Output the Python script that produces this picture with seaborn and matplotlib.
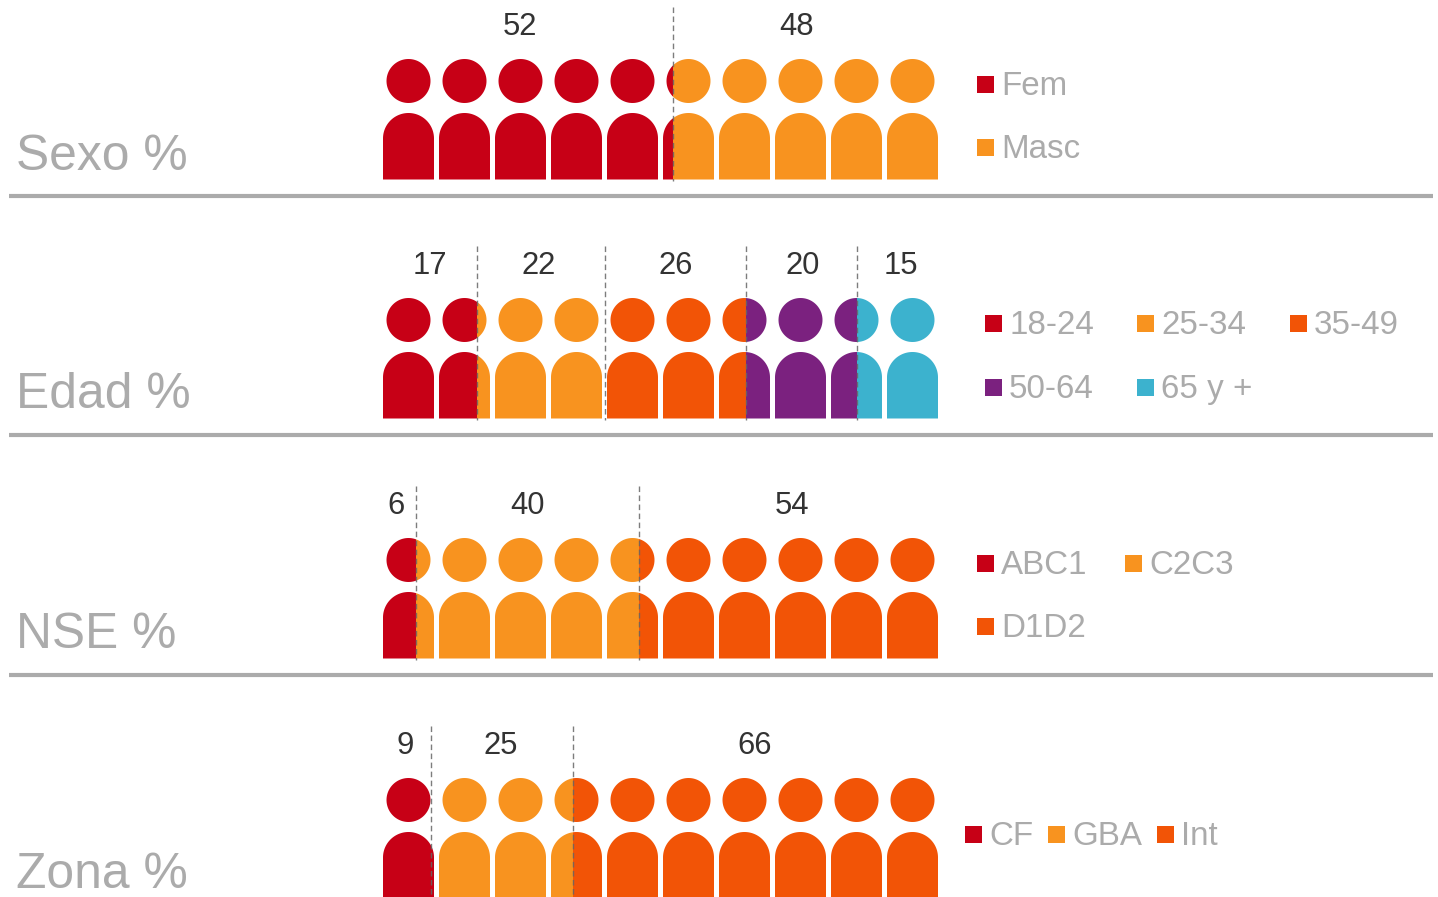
import numpy as np
import matplotlib
matplotlib.use("Agg")
import matplotlib.pyplot as plt
from matplotlib.path import Path
from matplotlib.patches import Rectangle
import seaborn as sns

# --- data ---
titles = ["Sexo %", "Edad %", "NSE %", "Zona %"]
sexo_labels = ["Fem", "Masc"]
edad_labels = ["18-24", "25-34", "35-49", "50-64", "65 y +"]
nse_labels = ["ABC1", "C2C3", "D1D2"]
zona_labels = ["CF", "GBA", "Int"]
sexo_shown = [52, 48]
edad_shown = [17, 22, 26, 20, 15]
nse_shown = [6, 40, 54]
zona_shown = [9, 25, 66]
# unrounded shares
sexo_share = [52.2, 47.8]
edad_share = [17.0, 23.0, 25.4, 20.0, 14.6]
nse_share = [6.0, 40.2, 53.8]
zona_share = [9.2, 25.0, 65.8]
palette = ["#C70016", "#F8931F", "#F25406", "#7B217F", "#3CB2CE"]

# --- layout (pixels) ---
W, H = 1438, 897
X0, X1 = 383, 938
PPU = (X1 - X0) / 100
PITCH, BODY_W, HEAD_R = 56, 51, 22
row_top = [0, 239, 479, 719]
label_shift = [[-8, -9], [0, -3, 0, 1, 3], [-4, 0, 3], [-3, -3, -1]]
dash_shift = [[0], [0, 0, 0, 0], [0, 0], [-2.8, 0]]
legend_pos = [
    [(977, 84), (977, 147)],
    [(985, 323), (1137, 323), (1290, 323), (985, 387), (1137, 387)],
    [(977, 563), (1125, 563), (977, 626)],
    [(965, 834), (1048, 834), (1157, 834)],
]

plt.rcParams["font.family"] = ["Liberation Sans", "DejaVu Sans"]
sns.set_style("white")
plt.rcParams["font.family"] = ["Liberation Sans", "DejaVu Sans"]
GRAY, DARK = "#ABABAB", "#333333"

fig = plt.figure(figsize=(W / 100, H / 100), dpi=100, facecolor="white")
bg = fig.add_axes([0, 0, 1, 1])
bg.set_xlim(0, W)
bg.set_ylim(H, 0)
bg.axis("off")


def people_path():
    """Ten head-and-body icons in row data units (x: percent, y: pixels)."""
    parts = []
    theta = np.linspace(0, 2 * np.pi, 90)
    arc = np.linspace(np.pi, 0, 60)
    r = BODY_W / 2
    for i in range(10):
        cx = 25.5 + PITCH * i
        hx = (cx + HEAD_R * np.cos(theta)) / PPU
        hy = 81 + HEAD_R * np.sin(theta)
        parts.append(Path(np.column_stack([hx, hy]), closed=True))
        bx = np.r_[cx - r, cx + r * np.cos(arc), cx + r, cx - r] / PPU
        by = np.r_[179.5, 138.5 - r * np.sin(arc), 179.5, 179.5]
        parts.append(Path(np.column_stack([bx, by]), closed=True))
    return Path.make_compound_path(*parts)


clip = people_path()
shares = [sexo_share, edad_share, nse_share, zona_share]
shown = [sexo_shown, edad_shown, nse_shown, zona_shown]
legends = [sexo_labels, edad_labels, nse_labels, zona_labels]

for k, title in enumerate(titles):
    top = row_top[k]
    ax = fig.add_axes([X0 / W, 1 - (top + 182) / H, (X1 - X0) / W, 182 / H])
    ax.patch.set_alpha(0)
    cum = np.r_[0, np.cumsum(shares[k])]
    for j, w in enumerate(shares[k]):
        sns.barplot(x=[w], y=[115], left=[cum[j]], orient="h", native_scale=True,
                    width=130, color=palette[j], saturation=1, ax=ax, zorder=2)
    for p in ax.patches:
        p.set_linewidth(0)
        p.set_clip_path(clip, ax.transData)
    ax.set_xlim(0, 100)
    ax.set_ylim(182, 0)
    ax.axis("off")
    for j, c in enumerate(cum[1:-1]):
        xd = c + dash_shift[k][j] / PPU
        ax.plot([xd, xd], [7, 181], color="#666666", lw=1, ls=(0, (4, 2.5)),
                alpha=0.85, zorder=3, clip_on=False)
    for j, v in enumerate(shown[k]):
        xm = (cum[j] + cum[j + 1]) / 2 + label_shift[k][j] / PPU
        ax.text(xm, 27, str(v), ha="center", va="center", fontsize=22.3, color=DARK)

    bg.text(16, top + 169.5, title, fontsize=35.8, color=GRAY, ha="left", va="baseline")
    if k < 3:
        bg.plot([9, 1433], [top + 195.8] * 2, color=GRAY, lw=3, solid_capstyle="butt")
    for j, lab in enumerate(legends[k]):
        lx, ly = legend_pos[k][j]
        bg.add_patch(Rectangle((lx, ly - 8), 17, 17, fc=palette[j], ec="none"))
        bg.text(lx + 24, ly + 11.2, lab, fontsize=23.9, color=GRAY, ha="left", va="baseline")

fig.savefig("out.png", dpi=100, facecolor="white")
